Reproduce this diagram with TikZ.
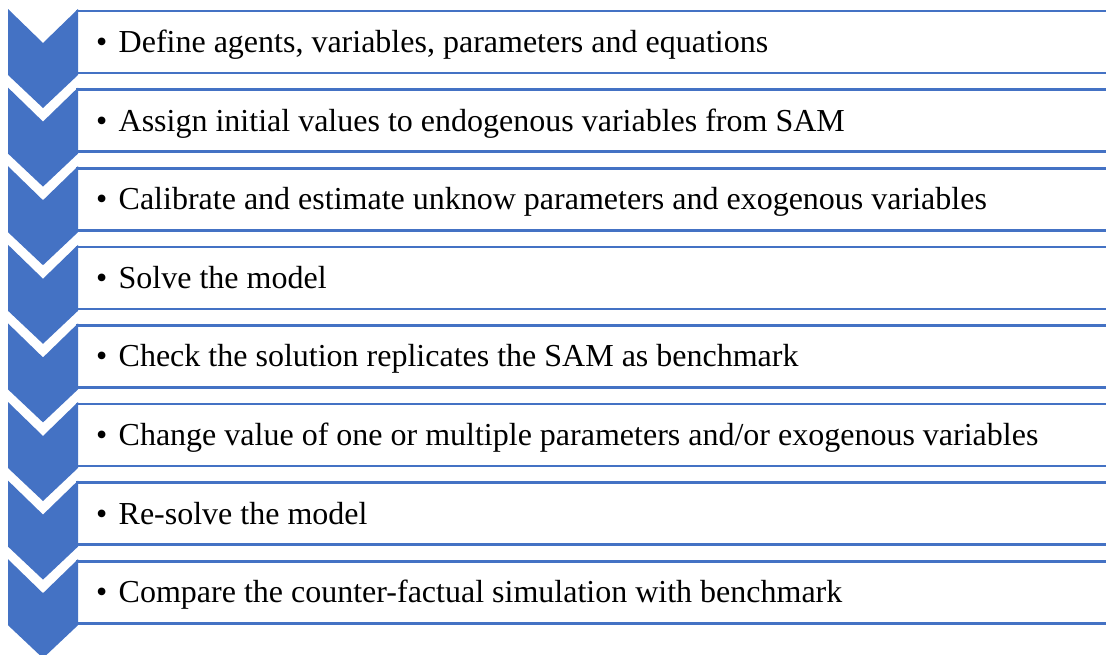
\documentclass[tikz,border=0pt]{standalone}
\usepackage{fontspec}
\setmainfont{Liberation Serif}
\definecolor{chevblue}{HTML}{4472C4}
\begin{document}
\begin{tikzpicture}[x=1pt,y=-1pt,
  chev/.style={fill=chevblue,draw=none},
  boxline/.style={draw=chevblue,line width=2.6pt,fill=white},
  txt/.style={anchor=base west,inner sep=0pt,font=\fontsize{32}{38}\selectfont,text=black}]
\useasboundingbox (0,0) rectangle (1106,654);
\clip (0,0) rectangle (1106,654);
\foreach \k/\t in {0/{Define agents, variables, parameters and equations},
                   1/{Assign initial values to endogenous variables from SAM},
                   2/{Calibrate and estimate unknow parameters and exogenous variables},
                   3/{Solve the model},
                   4/{Check the solution replicates the SAM as benchmark},
                   5/{Change value of one or multiple parameters and/or exogenous variables},
                   6/{Re-solve the model},
                   7/{Compare the counter-factual simulation with benchmark}}{
  \pgfmathsetmacro{\T}{9+78.6*\k}
  \pgfmathsetmacro{\B}{11+78.6*\k}
  \pgfmathsetmacro{\L}{52.5+78.6*\k}
  \draw[boxline] (77,\B) rectangle (1130,\B+62);
  \fill[chev] (8,\T) -- (43,\T+34) -- (78,\T) -- (78,\T+66) -- (43,\T+99) -- (8,\T+66) -- cycle;
  \node[txt] (t\k) at (96,\L) {\makebox[22.5pt][l]{\textbullet}\t};
}
\end{tikzpicture}
\end{document}
